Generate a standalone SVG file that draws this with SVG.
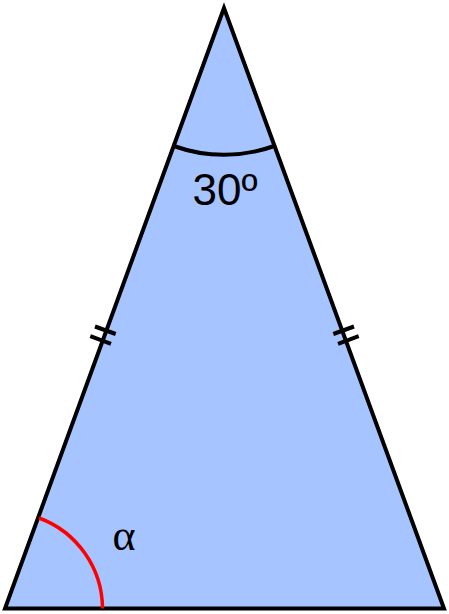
<svg xmlns="http://www.w3.org/2000/svg" width="449" height="614" viewBox="0 0 449 614">
<style>
.edge{fill:none;stroke:#000;stroke-width:4;stroke-linecap:butt}
.lbl{font-family:"Liberation Sans",Arial,sans-serif;fill:#000}
</style>
<rect width="449" height="614" fill="#fff"/>
<g id="triangle">
<polygon points="224,8 5,608.5 444,608.5" fill="#a6c4ff" stroke="#000" stroke-width="4" stroke-linejoin="miter" stroke-miterlimit="20"/>
</g>
<g id="connectors">
<path class="edge" d="M173.8,146 A147.5,147.5 0 0 0 274.2,146"/>
<path d="M39,518 A97,97 0 0 1 102.5,608.5" fill="none" stroke="#f00" stroke-width="3.5"/>
<g class="edge">
<line x1="95" y1="326.5" x2="115.7" y2="334"/>
<line x1="90.3" y1="336.2" x2="111" y2="343.8"/>
<line x1="354" y1="326.5" x2="333.3" y2="334"/>
<line x1="358.7" y1="336.2" x2="338" y2="343.8"/>
</g>
</g>
<g id="labels">
<text class="lbl" x="225" y="205" font-size="44" text-anchor="middle">30º</text>
<text x="124" y="550" font-size="44" text-anchor="middle" font-family="'Liberation Serif','Times New Roman',serif" fill="#000">α</text>
</g>
</svg>
